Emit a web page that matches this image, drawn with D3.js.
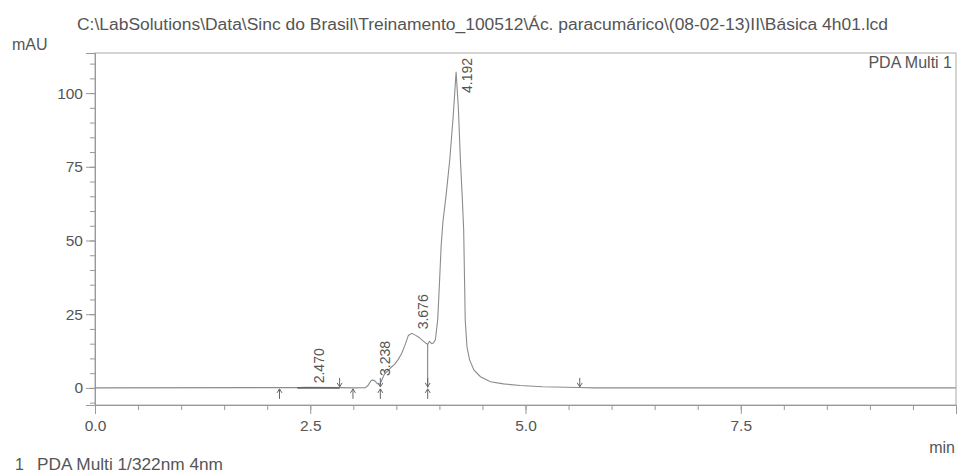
<!DOCTYPE html>
<html>
<head>
<meta charset="utf-8">
<script src="https://cdn.jsdelivr.net/npm/d3@7"></script>
<style>
  body { margin: 0; background: #fff; }
  text { font-family: "Liberation Sans", Arial, sans-serif; fill: #555; }
</style>
</head>
<body>
<svg id="chart" width="958" height="475"></svg>
<script>
/* DATA */
const titleText = "C:\\LabSolutions\\Data\\Sinc do Brasil\\Treinamento_100512\\Ác. paracumárico\\(08-02-13)II\\Básica 4h01.lcd";

// chromatogram trace, retention time (min) / absorbance (mAU)
const traceTimes = [0, 2.35, 2.47, 2.84, 3.00, 3.14, 3.17, 3.20, 3.22, 3.25, 3.28, 3.31, 3.33, 3.36, 3.40, 3.44, 3.48, 3.52, 3.56, 3.60, 3.64, 3.68, 3.72, 3.76, 3.80, 3.84, 3.865, 3.885, 3.91, 3.93, 3.953, 3.98, 4.00, 4.02, 4.04, 4.08, 4.12, 4.16, 4.194, 4.22, 4.244, 4.265, 4.282, 4.29, 4.30, 4.32, 4.35, 4.40, 4.477, 4.593, 4.744, 4.94, 5.20, 5.60, 5.80, 10];
const traceValues = [0, 0.1, 0.2, 0.1, 0, 0.1, 0.8, 2.2, 2.7, 2.4, 1.4, 1.3, 2.6, 4.6, 5.8, 7.0, 8.0, 9.6, 11.6, 14.5, 17.8, 18.5, 17.9, 17.2, 16.2, 15.2, 14.8, 15.8, 15.0, 15.2, 16.3, 23, 35, 48, 56, 66, 77.3, 92, 107.2, 95, 77.3, 65, 53.6, 40, 23, 14, 9.6, 6.1, 3.8, 2.1, 1.36, 0.8, 0.4, 0.15, 0, 0];

// detected peaks
const peakTimes = [2.470, 3.238, 3.676, 4.192];
const peakHeights = [0.2, 2.7, 18.5, 107.2];

// integration marks
const markUp = [2.143, 2.996];
const markDown = [2.841, 5.63];
const markBoth = [3.314, 3.864];
const dropLines = [3.864];
const baseSegments = [[2.35, 2.841]];

const yTicks = [0, 25, 50, 75, 100];
const xTicks = [0, 2.5, 5, 7.5];

/* LAYOUT */
const svg = d3.select("#chart");
const plotLeft = 95, plotRight = 956, plotTop = 53, plotBottom = 405;

const x = d3.scaleLinear().domain([0, 10]).range([plotLeft, plotRight]);
const y = d3.scaleLinear().domain([-5.8, 113.6]).range([plotBottom, plotTop]);

// frame
svg.append("rect")
  .attr("x", plotLeft).attr("y", plotTop)
  .attr("width", plotRight - plotLeft).attr("height", plotBottom - plotTop)
  .attr("fill", "none").attr("stroke", "#aaa").attr("stroke-width", 1);

// minor ticks
svg.append("g")
  .attr("transform", `translate(${plotLeft},0)`)
  .call(d3.axisLeft(y).tickValues(d3.range(-5, 114, 5)).tickSize(5).tickFormat(""))
  .call(g => g.select(".domain").remove())
  .selectAll("line").attr("stroke", "#999");

svg.append("g")
  .attr("transform", `translate(0,${plotBottom})`)
  .call(d3.axisBottom(x).tickValues(d3.range(0, 10.01, 0.5)).tickSize(5).tickFormat(""))
  .call(g => g.select(".domain").remove())
  .selectAll("line").attr("stroke", "#999");

// major ticks + labels
const yAxis = svg.append("g")
  .attr("transform", `translate(${plotLeft},0)`)
  .call(d3.axisLeft(y).tickValues(yTicks).tickSize(9).tickPadding(3).tickFormat(d3.format("d")));
yAxis.select(".domain").attr("stroke", "#999");
yAxis.selectAll("line").attr("stroke", "#999");
yAxis.selectAll("text").attr("font-size", 15.5).style("font-family", "Liberation Sans, Arial, sans-serif").attr("fill", "#555");

const xAxis = svg.append("g")
  .attr("transform", `translate(0,${plotBottom})`)
  .call(d3.axisBottom(x).tickValues(xTicks).tickSize(9).tickPadding(6).tickFormat(d3.format(".1f")));
xAxis.select(".domain").attr("stroke", "#999");
xAxis.selectAll("line").attr("stroke", "#999");
xAxis.selectAll("text").attr("font-size", 15.5).style("font-family", "Liberation Sans, Arial, sans-serif").attr("fill", "#555");

// trace
const traceData = traceTimes.map((t, i) => [t, traceValues[i]]);
const line = d3.line().x(d => x(d[0])).y(d => y(d[1]));

svg.append("path")
  .datum(traceData)
  .attr("d", line)
  .attr("fill", "none")
  .attr("stroke", "#8c8c8c")
  .attr("stroke-width", 1.1);

// integration baselines
svg.selectAll(".base")
  .data(baseSegments)
  .join("line")
  .attr("x1", d => x(d[0])).attr("x2", d => x(d[1]))
  .attr("y1", y(0)).attr("y2", y(0))
  .attr("stroke", "#666").attr("stroke-width", 1.6);

// drop lines from trace to baseline
const interp = t => {
  const i = d3.bisectLeft(traceTimes, t);
  const t0 = traceTimes[i - 1], t1 = traceTimes[i];
  const v0 = traceValues[i - 1], v1 = traceValues[i];
  return v0 + (v1 - v0) * (t - t0) / (t1 - t0);
};
svg.selectAll(".drop")
  .data(dropLines)
  .join("line")
  .attr("x1", d => x(d)).attr("x2", d => x(d))
  .attr("y1", d => y(interp(d))).attr("y2", y(0))
  .attr("stroke", "#777").attr("stroke-width", 1);

// arrows
function upArrow(t) {
  const cx = x(t), cy = y(0) + 1;
  return `M${cx},${cy + 10}V${cy}M${cx - 2.5},${cy + 4}L${cx},${cy}L${cx + 2.5},${cy + 4}`;
}
function downArrow(t) {
  const cx = x(t), cy = y(0) - 1;
  return `M${cx},${cy - 9}V${cy}M${cx - 2.5},${cy - 4}L${cx},${cy}L${cx + 2.5},${cy - 4}`;
}
const arrowPaths = [
  ...markUp.map(upArrow),
  ...markDown.map(downArrow),
  ...markBoth.map(t => upArrow(t) + downArrow(t))
];
svg.selectAll(".arrow")
  .data(arrowPaths)
  .join("path")
  .attr("d", d => d)
  .attr("fill", "none")
  .attr("stroke", "#666")
  .attr("stroke-width", 1);

// peak labels
const labels = svg.selectAll(".peak")
  .data(peakTimes)
  .join("text")
  .attr("font-size", 14)
  .text(d => d3.format(".3f")(d));
labels.each(function (d, i) {
  const len = this.getComputedTextLength();
  const yStart = Math.max(y(peakHeights[i]) - 4, plotTop + 5 + len);
  d3.select(this).attr("transform", `translate(${x(d) + 16},${yStart}) rotate(-90)`);
});

// texts
svg.append("text").attr("x", 77).attr("y", 30).attr("font-size", 16)
  .attr("textLength", 811).attr("lengthAdjust", "spacingAndGlyphs").text(titleText);
svg.append("text").attr("x", 12).attr("y", 50).attr("font-size", 16).text("mAU");
svg.append("text").attr("x", 952).attr("y", 68).attr("font-size", 16).attr("text-anchor", "end").text("PDA Multi 1");
svg.append("text").attr("x", 955).attr("y", 453).attr("font-size", 16).attr("text-anchor", "end").text("min");
svg.append("text").attr("x", 15).attr("y", 470).attr("font-size", 16).text("1");
svg.append("text").attr("x", 37).attr("y", 470).attr("font-size", 16)
  .attr("textLength", 186).attr("lengthAdjust", "spacingAndGlyphs").text("PDA Multi 1/322nm 4nm");
</script>
</body>
</html>
